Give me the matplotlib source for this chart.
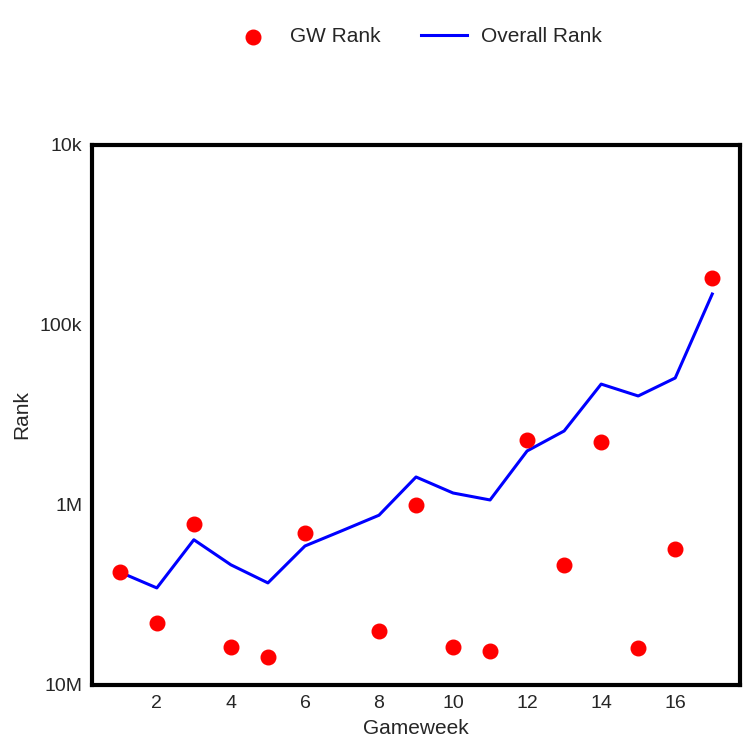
import matplotlib
matplotlib.use("Agg")
import matplotlib.pyplot as plt
import numpy as np

gameweeks = list(range(1, 18))
gw_rank = [2.36e6, 4.52e6, 1.27e6, 6.15e6, 6.99e6, 1.43e6, np.nan, 5.01e6, 1.0e6,
           6.15e6, 6.47e6, 4.35e5, 2.15e6, 4.47e5, 6.23e6, 1.75e6, 5.48e4]
overall_rank = [2.36e6, 2.89e6, 1.56e6, 2.15e6, 2.71e6, 1.69e6, 1.39e6, 1.14e6, 6.99e5,
                8.58e5, 9.38e5, 5.01e5, 3.88e5, 2.13e5, 2.48e5, 1.97e5, 6.73e4]
y_ticks = [1e4, 1e5, 1e6, 1e7]
y_ticklabels = ["10k", "100k", "1M", "10M"]
x_ticks = [2, 4, 6, 8, 10, 12, 14, 16]

plt.rcParams['font.family'] = ['Liberation Sans', 'DejaVu Sans']
fig = plt.figure(figsize=(7.5, 7.5), dpi=100)
ax = fig.add_axes([0.1227, 0.0867, 0.864, 0.72])

ax.scatter(gameweeks, gw_rank, s=110, color='red', zorder=3, label='GW Rank')
ax.plot(gameweeks, overall_rank, color='blue', lw=2.2, zorder=2, label='Overall Rank')

ax.set_yscale('log')
ax.set_ylim(1e7, 1e4)
ax.set_xlim(0.25, 17.75)
ax.set_yticks(y_ticks)
ax.set_yticklabels(y_ticklabels)
ax.yaxis.set_minor_locator(matplotlib.ticker.NullLocator())
ax.set_xticks(x_ticks)
ax.tick_params(axis='both', length=0, labelsize=14, colors='#262626', pad=7)
for sp in ax.spines.values():
    sp.set_linewidth(3)
    sp.set_color('black')
ax.set_xlabel('Gameweek', fontsize=15, color='#262626', labelpad=5)
ax.set_ylabel('Rank', fontsize=15, color='#262626', labelpad=6)

leg = ax.legend(loc='center', bbox_to_anchor=(0.5, 1.2), ncol=2, frameon=False,
                fontsize=15, columnspacing=1.9, handletextpad=0.7, handlelength=2.2,
                markerscale=1)
for t in leg.get_texts():
    t.set_color('#262626')

fig.savefig('out.png', dpi=100)
